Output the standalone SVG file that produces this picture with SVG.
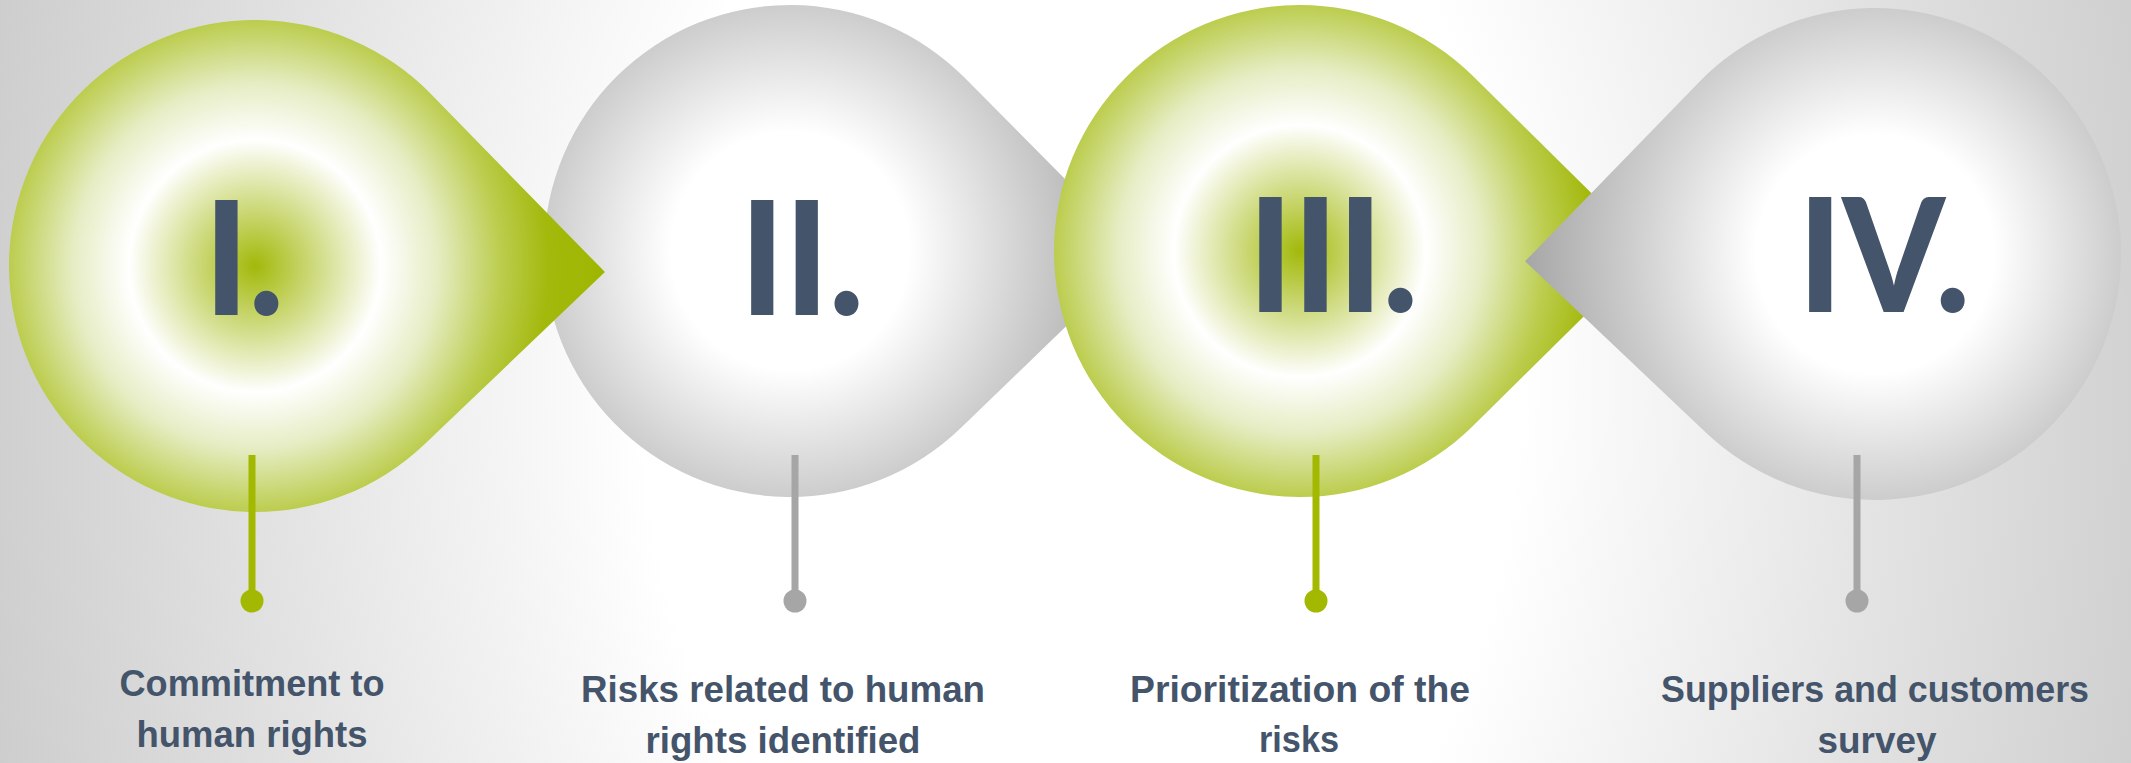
<svg xmlns="http://www.w3.org/2000/svg" width="2131" height="763" viewBox="0 0 2131 763">
  <defs>
    <!-- soft grey vignette behind the whole process -->
    <radialGradient id="bg" gradientUnits="userSpaceOnUse" cx="1080" cy="380" r="1150" gradientTransform="translate(1080 380) scale(1 1.4) translate(-1080 -380)">
      <stop offset="0" stop-color="#ffffff"/>
      <stop offset="0.38" stop-color="#ffffff"/>
      <stop offset="0.7" stop-color="#e3e3e3"/>
      <stop offset="1" stop-color="#cbcbcb"/>
    </radialGradient>
    <!-- drop fills, centred on the circle of each drop (local coordinates) -->
    <radialGradient id="dropGreen" gradientUnits="userSpaceOnUse" cx="0" cy="0" r="350">
      <stop offset="0" stop-color="#a2b90a"/>
      <stop offset="0.36" stop-color="#ffffff"/>
      <stop offset="0.52" stop-color="#e6edc4"/>
      <stop offset="0.70" stop-color="#bccd4f"/>
      <stop offset="0.84" stop-color="#a3b90c"/>
      <stop offset="1" stop-color="#9fb600"/>
    </radialGradient>
    <radialGradient id="dropGrey" gradientUnits="userSpaceOnUse" cx="0" cy="0" r="350">
      <stop offset="0" stop-color="#ffffff"/>
      <stop offset="0.34" stop-color="#ffffff"/>
      <stop offset="0.70" stop-color="#cdcdcd"/>
      <stop offset="1" stop-color="#a6a6a6"/>
    </radialGradient>
    <!-- circle r=246 with a point 350 from the centre, sides tangent to the circle -->
    <path id="drop" d="M 350 0 L 172.9 175 A 246 246 0 1 1 172.9 -175 Z"/>
  </defs>
  <style>
    .green { fill: url(#dropGreen); }
    .grey { fill: url(#dropGrey); }
    .numeral { font-family: Lato, "Liberation Sans", Arial, sans-serif; font-weight: 900; font-size: 158px; fill: #44546a; text-anchor: middle; }
    .label { font-family: "Liberation Sans", Arial, sans-serif; font-weight: bold; font-size: 37px; fill: #44546a; text-anchor: middle; }
    .stemGreen { stroke: #a3b800; stroke-width: 7; fill: none; }
    .stemGrey { stroke: #a6a6a6; stroke-width: 7; fill: none; }
    .dotGreen { fill: #a3b800; }
    .dotGrey { fill: #a6a6a6; }
  </style>

  <rect x="0" y="0" width="2131" height="763" fill="url(#bg)"/>

  <!-- step II sits beneath its neighbours -->
  <g id="step2">
    <use href="#drop" class="grey" transform="translate(790 251) rotate(0.6)"/>
    <text class="numeral" x="802" y="315" textLength="124" lengthAdjust="spacingAndGlyphs">II.</text>
  </g>

  <g id="step1">
    <use href="#drop" class="green" transform="translate(255 266) rotate(1)"/>
    <text class="numeral" x="244" y="315" textLength="80" lengthAdjust="spacingAndGlyphs">I.</text>
  </g>

  <g id="step3">
    <use href="#drop" class="green" transform="translate(1300 251)"/>
    <text class="numeral" x="1333" y="312" textLength="170" lengthAdjust="spacingAndGlyphs">III.</text>
  </g>

  <g id="step4">
    <use href="#drop" class="grey" transform="translate(1875 254) rotate(178.8)"/>
    <text class="numeral" x="1884" y="312" textLength="172" lengthAdjust="spacingAndGlyphs">IV.</text>
  </g>

  <!-- pins hanging from each step -->
  <g id="connectors">
    <line class="stemGreen" x1="252" y1="455" x2="252" y2="601"/>
    <circle class="dotGreen" cx="252" cy="601" r="11.5"/>
    <line class="stemGrey" x1="795" y1="455" x2="795" y2="601"/>
    <circle class="dotGrey" cx="795" cy="601" r="11.5"/>
    <line class="stemGreen" x1="1316" y1="455" x2="1316" y2="601"/>
    <circle class="dotGreen" cx="1316" cy="601" r="11.5"/>
    <line class="stemGrey" x1="1857" y1="455" x2="1857" y2="601"/>
    <circle class="dotGrey" cx="1857" cy="601" r="11.5"/>
  </g>

  <g id="label1">
    <text class="label" x="252" y="696" textLength="265" lengthAdjust="spacingAndGlyphs">Commitment to</text>
    <text class="label" x="252" y="747" textLength="231" lengthAdjust="spacingAndGlyphs">human rights</text>
  </g>
  <g id="label2">
    <text class="label" x="783" y="702" textLength="404" lengthAdjust="spacingAndGlyphs">Risks related to human</text>
    <text class="label" x="783" y="753" textLength="275" lengthAdjust="spacingAndGlyphs">rights identified</text>
  </g>
  <g id="label3">
    <text class="label" x="1300" y="702" textLength="340" lengthAdjust="spacingAndGlyphs">Prioritization of the</text>
    <text class="label" x="1299" y="752" textLength="80" lengthAdjust="spacingAndGlyphs">risks</text>
  </g>
  <g id="label4">
    <text class="label" x="1875" y="702" textLength="428" lengthAdjust="spacingAndGlyphs">Suppliers and customers</text>
    <text class="label" x="1877" y="753" textLength="119" lengthAdjust="spacingAndGlyphs">survey</text>
  </g>
</svg>
